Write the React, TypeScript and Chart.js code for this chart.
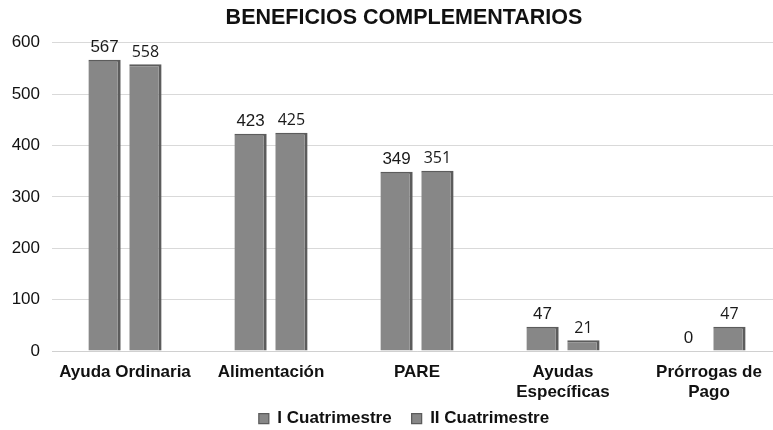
import React, { useEffect, useRef } from "react";
import { Chart, registerables } from "chart.js";

Chart.register(...registerables);

const categories: (string | string[])[] = [
  "Ayuda Ordinaria",
  "Alimentación",
  "PARE",
  ["Ayudas", "Específicas"],
  ["Prórrogas de", "Pago"],
];
const seriesNames = ["I Cuatrimestre", "II Cuatrimestre"];
const cuatrimestre1 = [567, 423, 349, 47, 0];
const cuatrimestre2 = [558, 425, 351, 21, 47];
const yTicks = [0, 100, 200, 300, 400, 500, 600];

const labelFonts = ['17px "Liberation Sans", Arial, sans-serif', '16px "Open Sans", "DejaVu Sans", sans-serif'];

const valueLabels = {
  id: "valueLabels",
  afterDatasetsDraw(chart: any) {
    const ctx = chart.ctx;
    chart.data.datasets.forEach((ds: any, i: number) => {
      const meta = chart.getDatasetMeta(i);
      meta.data.forEach((el: any, j: number) => {
        ctx.save();
        ctx.font = labelFonts[i];
        ctx.fillStyle = "#1a1a1a";
        ctx.textAlign = "center";
        ctx.textBaseline = "bottom";
        ctx.fillText(String(ds.data[j]), el.x, el.y - 4);
        ctx.restore();
      });
    });
  },
};

const layoutTweaks = {
  id: "layoutTweaks",
  beforeInit(chart: any) {
    const legend = chart.legend;
    if (legend) {
      const orig = legend.fit.bind(legend);
      legend.fit = function () {
        orig();
        this.height = 35;
      };
    }
  },
  afterLayout(chart: any) {
    const shift = 9;
    if (chart.legend) {
      chart.legend.left += shift;
      chart.legend.right += shift;
      chart.legend.top -= 5;
      chart.legend.bottom -= 5;
    }
    if (chart.titleBlock) {
      chart.titleBlock.left += shift;
      chart.titleBlock.right += shift;
    }
  },
};

export default function App() {
  const ref = useRef<HTMLCanvasElement>(null);
  useEffect(() => {
    if (!ref.current) return;
    const chart = new Chart(ref.current, {
      type: "bar",
      data: {
        labels: categories,
        datasets: [
          {
            label: seriesNames[0],
            data: cuatrimestre1,
            backgroundColor: "#878787",
            borderColor: "#5c5c5c",
            borderWidth: { top: 2, right: 3, left: 0, bottom: 0 },
            borderSkipped: false,
          },
          {
            label: seriesNames[1],
            data: cuatrimestre2,
            backgroundColor: "#878787",
            borderColor: "#5c5c5c",
            borderWidth: { top: 2, right: 3, left: 0, bottom: 0 },
            borderSkipped: false,
          },
        ],
      },
      options: {
        animation: false,
        responsive: false,
        maintainAspectRatio: false,
        categoryPercentage: 0.56,
        barPercentage: 0.79,
        layout: { padding: { left: 8, right: 4, top: 0, bottom: 0 } },
        plugins: {
          title: {
            display: true,
            text: "BENEFICIOS COMPLEMENTARIOS",
            font: { family: '"Liberation Sans", Arial, sans-serif', size: 21.5, weight: "bold" },
            color: "#111",
            padding: { top: 5, bottom: 12 },
            align: "center",
          },
          legend: {
            position: "bottom",
            labels: {
              boxWidth: 10,
              boxHeight: 10,
              color: "#111",
              padding: 20,
              font: { family: '"Liberation Sans", Arial, sans-serif', size: 17, weight: "bold" },
            },
          },
          tooltip: { enabled: false },
        },
        scales: {
          x: {
            grid: { display: false },
            border: { color: "#d0d0d0" },
            afterFit: (s: any) => {
              s.height = 44;
              s._computeLabelArea = () => undefined;
            },
            ticks: {
              color: "#111",
              maxRotation: 0,
              autoSkip: false,
              font: { family: '"Liberation Sans", Arial, sans-serif', size: 17, weight: "bold" },
            },
          },
          y: {
            min: 0,
            max: 600,
            afterFit: (s: any) => {
              s.width = 44;
            },
            afterBuildTicks: (s: any) => {
              s.ticks = yTicks.map((v) => ({ value: v }));
            },
            grid: { color: "#d9d9d9", drawTicks: false },
            border: { display: false },
            ticks: {
              color: "#111",
              padding: 12,
              font: { family: '"Liberation Sans", Arial, sans-serif', size: 17 },
            },
          },
        },
      },
      plugins: [layoutTweaks, valueLabels],
    } as any);
    return () => chart.destroy();
  }, []);
  return (
    <div style={{ position: "fixed", left: 0, top: 0, width: 773, height: 430, overflow: "hidden", background: "#fff" }}>
      <canvas ref={ref} width={786} height={430} style={{ width: 786, height: 430, display: "block" }} />
    </div>
  );
}
